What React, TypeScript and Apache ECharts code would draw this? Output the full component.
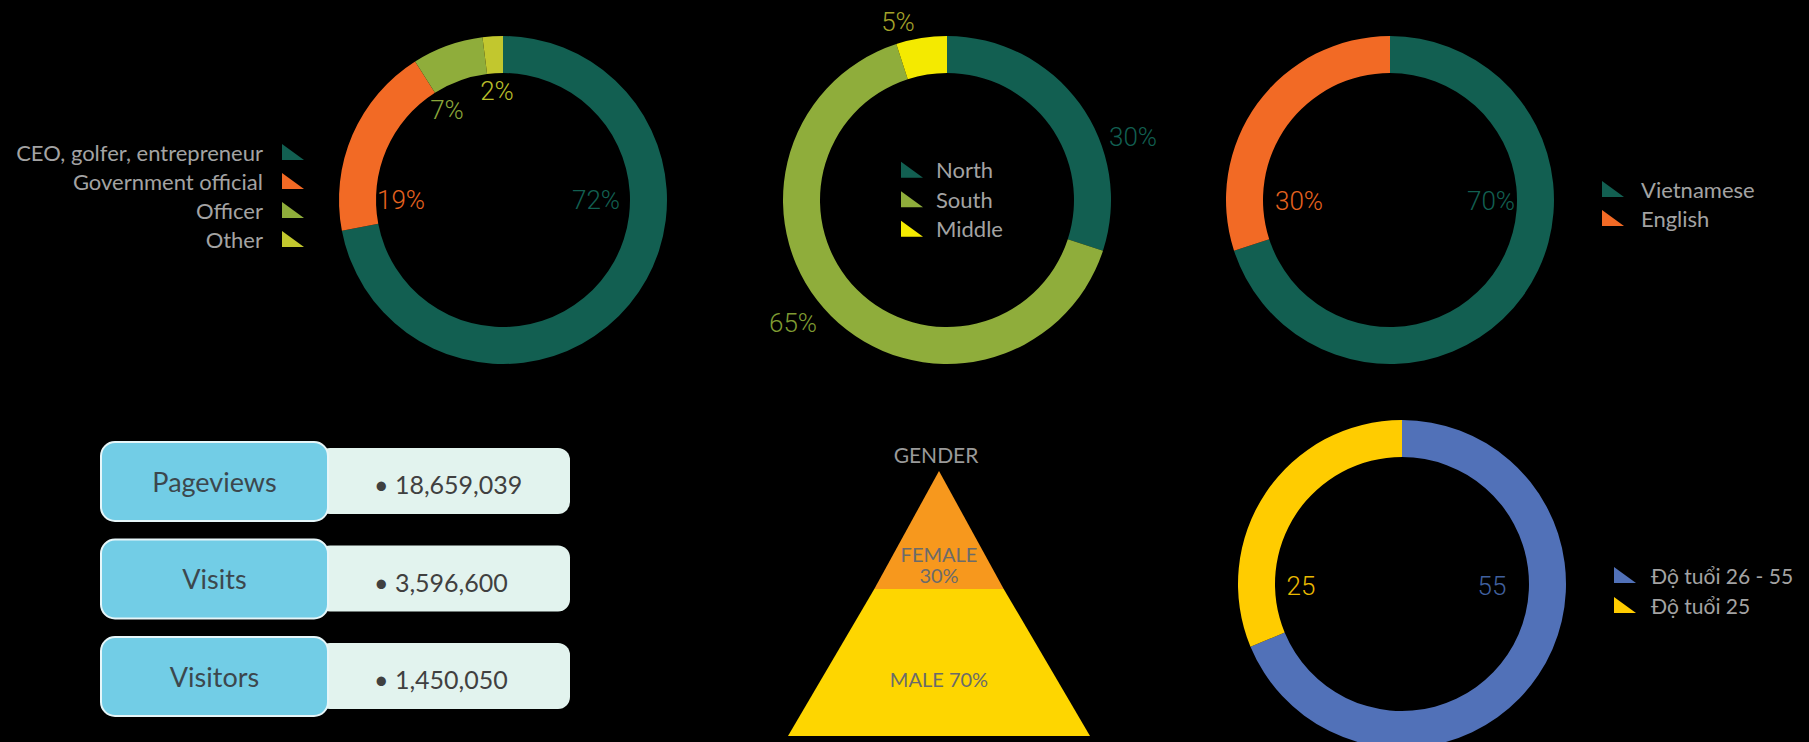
import React, { useEffect, useRef } from "react";
import * as echarts from "echarts";

// ---------- data ----------
const occupationNames = ["CEO, golfer, entrepreneur", "Government official", "Officer", "Other"];
const occupationValues = [72, 19, 7, 2];
const regionNames = ["North", "South", "Middle"];
const regionValues = [30, 65, 5];
const languageNames = ["Vietnamese", "English"];
const languageValues = [70, 30];
const ageNames = ["Độ tuổi 26 - 55", "Độ tuổi 25"];
const ageValues = [55, 25];
const genderNames = ["FEMALE", "MALE"];
const genderValues = [30, 70];
const statNames = ["Pageviews", "Visits", "Visitors"];
const statValues = ["18,659,039", "3,596,600", "1,450,050"];

// ---------- styles ----------
const GREEN = "#125f51";
const ORANGE = "#f26a25";
const OLIVE = "#8fad3b";
const LIME = "#c2c72e";
const YELLOW = "#f4ea00";
const BLUE = "#5171b8";
const GOLD = "#ffcc00";
const LEGEND_TEXT = "#a3a3a3";
const ICON = "path://M0,0L0,16L22,16Z";

type Pt = [number, number];

function donut(
  id: string,
  names: string[],
  values: number[],
  colors: string[],
  labelColors: string[],
  center: Pt,
  labelPos: Pt[],
  suffix: string
) {
  return {
    type: "pie",
    id,
    center,
    radius: [127, 164],
    startAngle: 90,
    clockwise: true,
    avoidLabelOverlap: false,
    emphasis: { disabled: true },
    label: {
      show: true,
      position: "outside",
      formatter: "{c}" + suffix,
      fontFamily: "Roboto",
      fontWeight: 300,
      fontSize: 26,
    },
    labelLine: { show: false },
    labelLayout: (p: any) => ({
      x: labelPos[p.dataIndex][0],
      y: labelPos[p.dataIndex][1],
      align: "center",
      verticalAlign: "middle",
    }),
    data: names.map((n, i) => ({
      name: n,
      value: values[i],
      itemStyle: { color: colors[i] },
      label: { color: labelColors[i] },
    })),
  };
}

function legend(names: string[], pos: any, fontSize: number, lineHeight: number, padding: number[], align: string) {
  return {
    data: names,
    orient: "vertical",
    align,
    padding: 0,
    itemGap: 0,
    itemWidth: 22,
    itemHeight: 16,
    icon: ICON,
    selectedMode: false,
    textStyle: {
      color: LEGEND_TEXT,
      fontFamily: "Lato",
      fontSize,
      lineHeight,
      padding,
    },
    ...pos,
  };
}

export default function App() {
  const ref = useRef<HTMLDivElement>(null);

  useEffect(() => {
    if (!ref.current) return;
    const chart = echarts.init(ref.current, null, { renderer: "svg" });

    const boxGraphics: any[] = [];
    statNames.forEach((name, i) => {
      const top = 442 + i * 97.5;
      boxGraphics.push(
        {
          type: "rect",
          shape: { x: 318, y: top + 6, width: 252, height: 66, r: 12 },
          style: { fill: "#e2f3ee" },
        },
        {
          type: "rect",
          shape: { x: 101, y: top, width: 227, height: 79, r: 14 },
          style: { fill: "#72cde6", stroke: "#e6f6f9", lineWidth: 2 },
        },
        {
          type: "text",
          style: {
            text: name,
            x: 214.5,
            y: top + 39,
            align: "center",
            verticalAlign: "middle",
            textAlign: "center",
            textVerticalAlign: "middle",
            fill: "#3c474d",
            font: "27px Lato",
          },
        },
        {
          type: "text",
          style: {
            text: "• " + statValues[i],
            x: 374,
            y: top + 42,
            align: "left",
            verticalAlign: "middle",
            textAlign: "left",
            textVerticalAlign: "middle",
            fill: "#404040",
            font: "25px Lato",
          },
        }
      );
    });

    const genderLabelShift = [35, 17];

    chart.setOption({
      animation: false,
      backgroundColor: "#000",
      title: {
        text: "GENDER",
        left: 931,
        top: 439,
        textAlign: "center",
        textStyle: { color: "#9a9a9a", fontFamily: "Lato", fontSize: 21, fontWeight: "normal" },
      },
      legend: [
        legend(occupationNames, { right: 1809 - 304, top: 137.5 }, 22, 29, [0, 14, 0, 0], "right"),
        legend(regionNames, { left: 901, top: 155 }, 22, 29.5, [0, 0, 0, 8], "left"),
        legend(languageNames, { left: 1602, top: 174.5 }, 22, 29, [0, 0, 0, 12], "left"),
        legend(ageNames, { left: 1614, top: 560 }, 21, 30, [0, 0, 0, 10], "left"),
      ],
      series: [
        donut(
          "occupation",
          occupationNames,
          occupationValues,
          [GREEN, ORANGE, OLIVE, LIME],
          [GREEN, "#e5621f", "#8aa63a", "#b9be2a"],
          [503, 200],
          [
            [596, 200],
            [401, 200],
            [447, 110],
            [497, 91],
          ],
          "%"
        ),
        donut(
          "region",
          regionNames,
          regionValues,
          [GREEN, OLIVE, YELLOW],
          [GREEN, "#7f9b32", "#a5a32a"],
          [947, 200],
          [
            [1133, 137],
            [793, 323],
            [898, 22],
          ],
          "%"
        ),
        donut(
          "language",
          languageNames,
          languageValues,
          [GREEN, ORANGE],
          [GREEN, "#e5621f"],
          [1390, 200],
          [
            [1491, 201],
            [1299, 201],
          ],
          "%"
        ),
        donut(
          "age",
          ageNames,
          ageValues,
          [BLUE, GOLD],
          ["#40609f", "#e8b900"],
          [1402, 584],
          [
            [1492, 586],
            [1301, 586],
          ],
          ""
        ),
        {
          type: "funnel",
          id: "gender",
          left: 788,
          top: 471,
          width: 302,
          height: 265,
          sort: "ascending",
          min: 0,
          max: 70,
          minSize: "0%",
          maxSize: "100%",
          gap: 0,
          emphasis: { disabled: true },
          label: {
            show: true,
            position: "inside",
            color: "#6b6b6b",
            fontFamily: "Lato",
            fontSize: 20,
            lineHeight: 21,
          },
          labelLine: { show: false },
          labelLayout: (p: any) => ({ dy: genderLabelShift[p.dataIndex] }),
          itemStyle: { borderWidth: 0 },
          data: [
            {
              name: genderNames[0],
              value: genderValues[0],
              itemStyle: { color: "#f7981d", height: "44.5%", borderWidth: 0 },
              label: { formatter: "{b}\n{c}%" },
            },
            {
              name: genderNames[1],
              value: genderValues[1],
              itemStyle: { color: "#fed600", height: "55.5%", borderWidth: 0 },
              label: { formatter: "{b} {c}%" },
            },
          ],
        },
      ],
      graphic: boxGraphics,
    });

    return () => chart.dispose();
  }, []);

  return (
    <div
      ref={ref}
      style={{ position: "fixed", left: 0, top: 0, width: 1809, height: 742, background: "#000" }}
    />
  );
}
